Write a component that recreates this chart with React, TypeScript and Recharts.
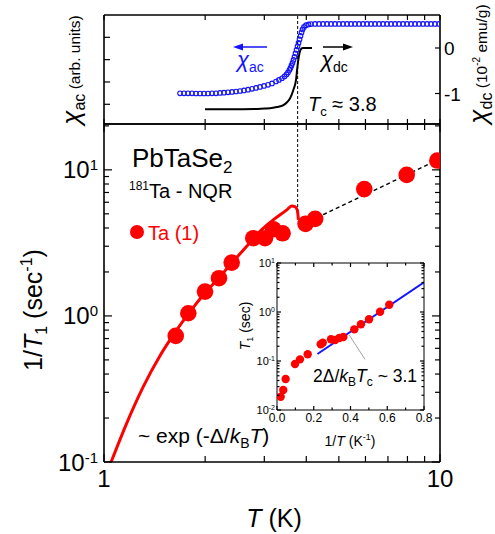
import React from 'react';
import { ComposedChart, Scatter, Line, XAxis, YAxis, ReferenceLine } from 'recharts';

const FONT = '"Liberation Sans", Arial, Helvetica, sans-serif';
const W = 495;
const H = 534;
const RED = '#ff0000';
const BLUE = '#1414ff';

// ---------- main panel: 1/T1 vs T (181Ta NQR, Ta(1)) ----------
const tempK = [1.635, 1.782, 1.998, 2.199, 2.399, 2.782, 3.014, 3.19, 3.40, 3.98, 4.25, 5.95, 7.96, 9.82];
const rateTa1 = [0.730, 1.043, 1.467, 1.813, 2.318, 3.405, 3.405, 3.925, 3.68, 4.27, 4.62, 7.38, 9.24, 11.58];
const gapCurveT = [1.05, 1.168, 1.309, 1.468, 1.635, 1.791, 2.0, 2.2, 2.4, 2.66, 2.88, 3.19, 3.50, 3.62, 3.70, 3.76, 3.79];
const gapCurveRate = [0.1, 0.184, 0.328, 0.534, 0.783, 1.048, 1.44, 1.83, 2.30, 3.0, 3.7, 4.54, 5.32, 5.66, 5.6, 5.32, 4.55];
const normalT = [4.3, 10];
const normalRate = [4.7, 11.9];
const Tc = 3.77;

// ---------- top panel: chi_ac (arb. units) and chi_dc (1e-2 emu/g) ----------
const chiAcT = [1.684, 1.730, 1.778, 1.827, 1.878, 1.931, 1.984, 2.039, 2.096, 2.154, 2.214, 2.276, 2.339, 2.404, 2.471, 2.540, 2.610, 2.683, 2.757, 2.834, 2.913, 2.994, 3.077, 3.162, 3.250,
  3.317, 3.386, 3.445, 3.493, 3.529, 3.565, 3.590, 3.614, 3.639, 3.664, 3.690, 3.715, 3.741, 3.767, 3.793, 3.819, 3.845, 3.872, 3.899, 3.938, 3.993, 4.061, 4.132,
  4.246, 4.364, 4.485, 4.610, 4.738, 4.870, 5.005, 5.145, 5.288, 5.435, 5.585, 5.741, 5.900, 6.064, 6.233, 6.406, 6.584, 6.767, 6.956, 7.149, 7.348, 7.551, 7.762, 7.977, 8.199, 8.427, 8.660, 8.902, 9.149, 9.403, 9.663, 9.931];
const chiAcVal = [1.493, 1.493, 1.493, 1.489, 1.484, 1.484, 1.484, 1.484, 1.489, 1.493, 1.507, 1.520, 1.534, 1.552, 1.574, 1.596, 1.619, 1.655, 1.695, 1.731, 1.776, 1.821, 1.874, 1.933, 2.022,
  2.090, 2.166, 2.247, 2.336, 2.426, 2.538, 2.628, 2.740, 2.852, 2.987, 3.121, 3.278, 3.435, 3.592, 3.749, 3.906, 4.063, 4.220, 4.354, 4.466, 4.543, 4.578, 4.592,
  4.60, 4.60, 4.60, 4.60, 4.60, 4.60, 4.60, 4.60, 4.60, 4.60, 4.60, 4.60, 4.60, 4.60, 4.60, 4.60, 4.60, 4.60, 4.60, 4.60, 4.60, 4.60, 4.60, 4.60, 4.60, 4.60, 4.60, 4.60, 4.60, 4.60, 4.60, 4.60];
const chiDcT = [1.998, 2.37, 2.81, 3.01, 3.12, 3.27, 3.42, 3.51, 3.58, 3.66, 3.728, 3.753, 3.779, 3.819, 3.858, 3.911, 4.159];
const chiDcVal = [-1.347, -1.347, -1.341, -1.33, -1.325, -1.297, -1.253, -1.187, -1.105, -0.923, -0.703, -0.50, -0.31, -0.11, -0.02, 0, 0];

// ---------- inset: T1 vs 1/T ----------
const invT = [0.020, 0.034, 0.047, 0.098, 0.125, 0.167, 0.238, 0.249, 0.294, 0.316, 0.339, 0.361, 0.421, 0.457, 0.501, 0.561, 0.611];
const t1Sec = [0.0187, 0.0256, 0.043, 0.087, 0.108, 0.137, 0.219, 0.236, 0.277, 0.268, 0.294, 0.309, 0.443, 0.561, 0.71, 1.014, 1.41];
const gapFitInvT = [0.22, 0.8];
const gapFitT1 = [0.139, 4.04];
const leaderInvT = [0.393, 0.479];
const leaderT1 = [0.34, 0.108];

// ---------- ticks ----------
const mainXTicks = [1, 2, 3, 4, 5, 6, 7, 8, 9, 10];
const mainYTicks = [0.1, 0.2, 0.3, 0.4, 0.5, 0.6, 0.7, 0.8, 0.9, 1, 2, 3, 4, 5, 6, 7, 8, 9, 10, 20];
const chiAcTicks = [1, 2, 3, 4];
const chiDcTicks = [-1, 0];
const insetXTicks = [0, 0.1, 0.2, 0.3, 0.4, 0.5, 0.6, 0.7, 0.8];
const insetYTicks = [0.01, 0.02, 0.03, 0.04, 0.05, 0.06, 0.07, 0.08, 0.09, 0.1, 0.2, 0.3, 0.4, 0.5, 0.6, 0.7, 0.8, 0.9, 1, 2, 3, 4, 5, 6, 7, 8, 9, 10];

const xy = (xs: number[], ys: number[]) => xs.map((x, i) => ({ x, y: ys[i] }));
const mainPts = xy(tempK, rateTa1);
const curvePts = xy(gapCurveT, gapCurveRate);
const normalPts = xy(normalT, normalRate);
const acPts = xy(chiAcT, chiAcVal);
const dcPts = xy(chiDcT, chiDcVal);
const insetPts = xy(invT, t1Sec);
const insetFit = xy(gapFitInvT, gapFitT1);

const isDecade = (v: number) => Math.abs(Math.log10(v) - Math.round(Math.log10(v))) < 1e-9;

type Side = 'bottom' | 'top' | 'left' | 'right';
const makeTick = (side: Side, len: (v: number) => number, label?: (v: number, x: number, y: number) => React.ReactNode) =>
  (props: any) => {
    const { x, y, payload } = props;
    const v = payload.value;
    const L = len(v);
    const x2 = side === 'left' ? x + L : side === 'right' ? x - L : x;
    const y2 = side === 'bottom' ? y - L : side === 'top' ? y + L : y;
    return (
      <g>
        {L !== 0 && <line x1={x} y1={y} x2={x2} y2={y2} stroke="#000" strokeWidth={1.2} />}
        {label ? label(v, x, y) : null}
      </g>
    );
  };

const mainBottomTick = makeTick('bottom', (v) => (isDecade(v) ? 8 : 6), (v, x, y) =>
  isDecade(v) ? (
    <text x={x} y={y + 25} textAnchor="middle" fontSize={24} fontFamily={FONT}>{String(v)}</text>
  ) : null);
const mainTopTick = makeTick('top', (v) => (isDecade(v) ? 8 : 6));
const mainLeftTick = makeTick('left', (v) => (isDecade(v) ? 8 : 5), (v, x, y) =>
  isDecade(v) ? (
    <text x={x - 6} y={y + 8.5} textAnchor="end" fontSize={24} fontFamily={FONT}>
      10<tspan dy={-8} fontSize={15}>{String(Math.round(Math.log10(v)))}</tspan>
    </text>
  ) : null);
const mainRightTick = makeTick('right', (v) => (isDecade(v) ? 8 : 5));

const topTopTick = makeTick('top', () => 5);
const topBottomTick = makeTick('bottom', () => 5);
const topLeftTick = makeTick('left', () => 6);
const topRightTick = makeTick('right', () => 5, (v, x, y) => (
  <text x={x + 4} y={y + 7} textAnchor="start" fontSize={19} fontFamily={FONT}>{String(v)}</text>
));

const insetBottomTick = makeTick('bottom', (v) => (Math.round(v * 10) % 2 === 0 ? 4 : 2.5), (v, x, y) =>
  Math.round(v * 10) % 2 === 0 ? (
    <text x={x} y={y + 12} textAnchor="middle" fontSize={12} fontFamily={FONT}>{v.toFixed(1)}</text>
  ) : null);
const insetTopTick = makeTick('top', (v) => (Math.round(v * 10) % 2 === 0 ? 4 : 2.5));
const insetLeftTick = makeTick('left', (v) => (isDecade(v) ? 4 : 2.5), (v, x, y) =>
  isDecade(v) ? (
    <text x={x - 2} y={y + 4} textAnchor="end" fontSize={11} fontFamily={FONT}>
      10<tspan dy={-4} fontSize={7}>{String(Math.round(Math.log10(v)))}</tspan>
    </text>
  ) : null);
const insetRightTick = makeTick('right', (v) => (isDecade(v) ? 4 : 2.5));

const RedDot = (p: any) => <circle cx={p.cx} cy={p.cy} r={8.3} fill={RED} />;
const SmallRedDot = (p: any) => <circle cx={p.cx} cy={p.cy} r={4.2} fill={RED} />;
const OpenBlue = (p: any) => <circle cx={p.cx} cy={p.cy} r={2.3} fill="none" stroke={BLUE} strokeWidth={1.1} />;

const abs: React.CSSProperties = { position: 'absolute', left: 0, top: 0 };

// plot boxes (pixel frame of each panel) and axis thickness (1px reserved for each axis)
const AXW = 1;
const boxMargin = (l: number, t: number, r: number, b: number) => ({ left: l - AXW, top: t - AXW, right: W - r - AXW, bottom: H - b - AXW });

const axisProps = (sw: number) => ({
  tickSize: 0,
  tickMargin: 0,
  tickLine: false,
  axisLine: { stroke: '#000', strokeWidth: sw },
  interval: 0 as const,
  allowDataOverflow: true,
});
const A = axisProps(1.6);
const AI = axisProps(1);

function TopPanel() {
  return (
    <ComposedChart width={W} height={H} margin={boxMargin(104, 15, 440, 124)}>
      <XAxis xAxisId="b" dataKey="x" type="number" scale="log" domain={[1, 10]} ticks={mainXTicks} orientation="bottom" height={AXW} tick={topBottomTick} {...A} />
      <XAxis xAxisId="t" dataKey="x" type="number" scale="log" domain={[1, 10]} ticks={mainXTicks} orientation="top" height={AXW} tick={topTopTick} {...A} />
      <YAxis yAxisId="l" dataKey="y" type="number" domain={[0.117, 5.0]} ticks={chiAcTicks} orientation="left" width={AXW} tick={topLeftTick} {...A} />
      <YAxis yAxisId="r" dataKey="y" type="number" domain={[-1.67, 0.725]} ticks={chiDcTicks} orientation="right" width={AXW} tick={topRightTick} {...A} />
      <ReferenceLine xAxisId="b" yAxisId="l" x={Tc} stroke="#000" strokeWidth={1} strokeDasharray="3 2" />
      <Line xAxisId="b" yAxisId="r" data={dcPts} dataKey="y" type="monotone" stroke="#000" strokeWidth={2} dot={false} isAnimationActive={false} />
      <Scatter xAxisId="b" yAxisId="l" data={acPts} shape={OpenBlue} isAnimationActive={false} />
    </ComposedChart>
  );
}

function MainPanel() {
  return (
    <ComposedChart width={W} height={H} margin={boxMargin(104, 124, 440, 462)}>
      <XAxis xAxisId="b" dataKey="x" type="number" scale="log" domain={[1, 10]} ticks={mainXTicks} orientation="bottom" height={AXW} tick={mainBottomTick} {...A} />
      <XAxis xAxisId="t" dataKey="x" type="number" scale="log" domain={[1, 10]} ticks={mainXTicks} orientation="top" height={AXW} tick={mainTopTick} {...A} />
      <YAxis yAxisId="l" dataKey="y" type="number" scale="log" domain={[0.1, 20.6]} ticks={mainYTicks} orientation="left" width={AXW} tick={mainLeftTick} {...A} />
      <YAxis yAxisId="r" dataKey="y" type="number" scale="log" domain={[0.1, 20.6]} ticks={mainYTicks} orientation="right" width={AXW} tick={mainRightTick} {...A} />
      <ReferenceLine xAxisId="b" yAxisId="l" segment={[{ x: Tc, y: 20.6 }, { x: Tc, y: 4.6 }]} stroke="#000" strokeWidth={1} strokeDasharray="3 2" />
      <Line xAxisId="b" yAxisId="l" data={curvePts} dataKey="y" type="monotone" stroke={RED} strokeWidth={3} dot={false} isAnimationActive={false} />
      <Line xAxisId="b" yAxisId="l" data={normalPts} dataKey="y" type="linear" stroke="#000" strokeWidth={1.4} strokeDasharray="4 3" dot={false} isAnimationActive={false} />
      <Scatter xAxisId="b" yAxisId="l" data={mainPts} shape={RedDot} isAnimationActive={false} />
    </ComposedChart>
  );
}

function InsetPanel() {
  return (
    <ComposedChart width={W} height={H} margin={boxMargin(277, 263, 424, 410)}>
      <XAxis xAxisId="b" dataKey="x" type="number" domain={[0, 0.8]} ticks={insetXTicks} orientation="bottom" height={AXW} tick={insetBottomTick} {...AI} />
      <XAxis xAxisId="t" dataKey="x" type="number" domain={[0, 0.8]} ticks={insetXTicks} orientation="top" height={AXW} tick={insetTopTick} {...AI} />
      <YAxis yAxisId="l" dataKey="y" type="number" scale="log" domain={[0.01, 10]} ticks={insetYTicks} orientation="left" width={AXW} tick={insetLeftTick} {...AI} />
      <YAxis yAxisId="r" dataKey="y" type="number" scale="log" domain={[0.01, 10]} ticks={insetYTicks} orientation="right" width={AXW} tick={insetRightTick} {...AI} />
      <ReferenceLine xAxisId="b" yAxisId="l" segment={[{ x: leaderInvT[0], y: leaderT1[0] }, { x: leaderInvT[1], y: leaderT1[1] }]} stroke="#888" strokeWidth={0.8} />
      <Scatter xAxisId="b" yAxisId="l" data={insetPts} shape={SmallRedDot} isAnimationActive={false} />
      <Line xAxisId="b" yAxisId="l" data={insetFit} dataKey="y" type="linear" stroke={BLUE} strokeWidth={2} dot={false} isAnimationActive={false} />
    </ComposedChart>
  );
}

function Overlay() {
  return (
    <svg width={W} height={H} style={{ ...abs, pointerEvents: 'none' }} fontFamily={FONT}>
      {/* top panel labels */}
      <text transform="rotate(-90)" x={-70} y={80} textAnchor="middle">
        <tspan fontSize={26} fontStyle="italic">χ</tspan>
        <tspan fontSize={16} dy={5}>ac</tspan>
        <tspan fontSize={15.5} dy={-5}> (arb. units)</tspan>
      </text>
      <text transform="rotate(-90)" x={-64} y={487} textAnchor="middle">
        <tspan fontSize={26} fontStyle="italic">χ</tspan>
        <tspan fontSize={16} dy={5}>dc</tspan>
        <tspan fontSize={15.5} dy={-5}> (10</tspan>
        <tspan fontSize={10} dy={-7}>-2</tspan>
        <tspan fontSize={15.5} dy={7}> emu/g)</tspan>
      </text>
      <line x1={267} y1={47} x2={240} y2={47} stroke={BLUE} strokeWidth={1.5} />
      <polygon points="233,47 243,43.5 243,50.5" fill={BLUE} />
      <text x={237} y={67} fill={BLUE}>
        <tspan fontSize={22} fontStyle="italic">χ</tspan>
        <tspan fontSize={14} dy={5}>ac</tspan>
      </text>
      <line x1={323} y1={47} x2={346} y2={47} stroke="#000" strokeWidth={1.5} />
      <polygon points="353,47 343,43.5 343,50.5" fill="#000" />
      <text x={321} y={67} fill="#000">
        <tspan fontSize={22} fontStyle="italic">χ</tspan>
        <tspan fontSize={14} dy={5}>dc</tspan>
      </text>
      <text x={308} y={111} fontSize={20}>
        <tspan fontStyle="italic">T</tspan>
        <tspan fontSize={13} dy={5}>c</tspan>
        <tspan dy={-5}> ≈ 3.8</tspan>
      </text>

      {/* main panel labels */}
      <text x={132} y={167} fontSize={26}>
        PbTaSe<tspan fontSize={17} dy={6}>2</tspan>
      </text>
      <text x={129} y={198} fontSize={20}>
        <tspan fontSize={12} dy={-8}>181</tspan>
        <tspan dy={8}>Ta - NQR</tspan>
      </text>
      <circle cx={137} cy={232} r={7} fill={RED} />
      <text x={148} y={239.5} fontSize={20} fill={RED}>Ta (1)</text>
      <text x={138} y={443} fontSize={21}>
        ~ exp (-Δ/<tspan fontStyle="italic">k</tspan>
        <tspan fontSize={14} dy={5}>B</tspan>
        <tspan fontStyle="italic" dy={-5}>T</tspan>)
      </text>
      <text x={274} y={527} fontSize={25} textAnchor="middle">
        <tspan fontStyle="italic">T</tspan> (K)
      </text>
      <text transform="rotate(-90)" x={-310} y={42} fontSize={25} textAnchor="middle">
        1/<tspan fontStyle="italic">T</tspan>
        <tspan fontSize={16} dy={5}>1</tspan>
        <tspan dy={-5}> (sec</tspan>
        <tspan fontSize={16} dy={-10}>-1</tspan>
        <tspan dy={10}>)</tspan>
      </text>

      {/* inset labels */}
      <text x={313} y={382} fontSize={17.5}>
        2Δ/<tspan fontStyle="italic">k</tspan>
        <tspan fontSize={12} dy={4}>B</tspan>
        <tspan fontStyle="italic" dy={-4}>T</tspan>
        <tspan fontSize={12} dy={4}>c</tspan>
        <tspan dy={-4}> ~ 3.1</tspan>
      </text>
      <text x={350} y={446} fontSize={14} textAnchor="middle">
        1/<tspan fontStyle="italic">T</tspan> (K<tspan fontSize={9} dy={-6}>-1</tspan>
        <tspan dy={6}>)</tspan>
      </text>
      <text transform="rotate(-90)" x={-326} y={250} fontSize={14} textAnchor="middle">
        <tspan fontStyle="italic">T</tspan>
        <tspan fontSize={9} dy={3}>1</tspan>
        <tspan dy={-3}> (sec)</tspan>
      </text>
    </svg>
  );
}

export default function App() {
  return (
    <div style={{ position: 'absolute', left: 0, top: 0, width: W, height: H, background: '#fff', fontFamily: FONT }}>
      <div style={abs}><TopPanel /></div>
      <div style={abs}><MainPanel /></div>
      <div style={abs}><InsetPanel /></div>
      <Overlay />
    </div>
  );
}
